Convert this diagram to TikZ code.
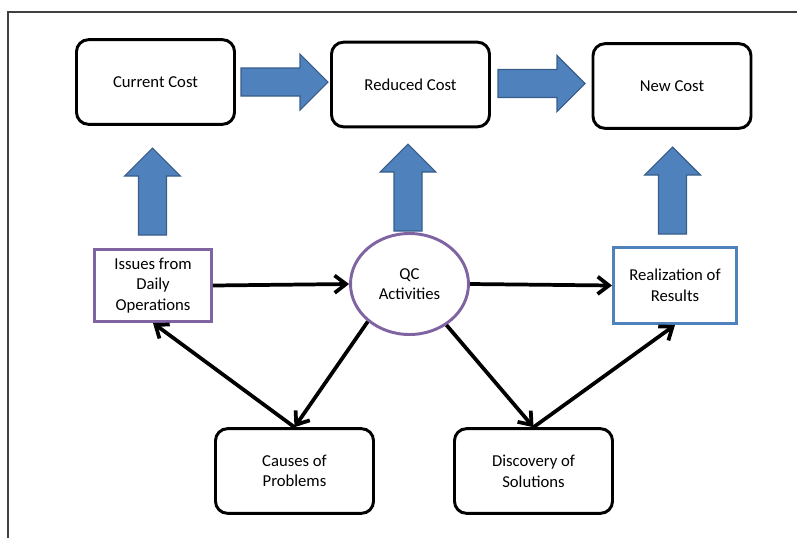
\documentclass[tikz,border=0pt]{standalone}
\usepackage{fontspec}
\setmainfont{Carlito}
\usetikzlibrary{arrows.meta,shapes.geometric}
\definecolor{accentblue}{HTML}{4F81BD}
\definecolor{arrowedge}{HTML}{385D8A}
\definecolor{accentpurple}{HTML}{8064A2}
\definecolor{framegray}{HTML}{404040}
\begin{document}
\begin{tikzpicture}[x=0.75pt,y=-0.75pt,
  every node/.style={font=\fontsize{12.5}{15.5}\selectfont, align=center, inner sep=0pt},
  costbox/.style={draw=black, line width=2.2pt, rounded corners=9pt, fill=white,
    minimum width=118.5pt, minimum height=63.5pt},
  purplebox/.style={draw=accentpurple, line width=2.2pt, fill=white,
    minimum width=87.75pt, minimum height=54pt},
  bluebox/.style={draw=accentblue, line width=2.2pt, fill=white,
    minimum width=92.25pt, minimum height=57pt},
  qcellipse/.style={ellipse, draw=accentpurple, line width=2.2pt, fill=white,
    minimum width=88.5pt, minimum height=75.75pt},
  flow/.style={draw=black, line width=2.8pt,
    -{Straight Barb[length=8.5pt,width=13pt,line width=2.8pt]}},
  blockstyle/.style={fill=accentblue, draw=arrowedge, line width=0.8pt, line join=miter},
  blockarrow/.pic={
    \draw[blockstyle] (0,-14) -- (59,-14) -- (59,-28) -- (87,0) -- (59,28)
      -- (59,14) -- (0,14) -- cycle;
  }
]
\useasboundingbox (0,0) rectangle (797,537);

% outer frame (top and left edges)
\draw[framegray, line width=0.8pt] (8,545) -- (8,12) -- (805,12);

% cost stages
\node[costbox] (cur) at (155.5,82) {Current Cost};
\node[costbox] (red) at (410.5,84.5) {Reduced Cost};
\node[costbox] (new) at (672,86) {New Cost};

% activity cycle
\node[purplebox] (iss) at (153,285.5) {Issues from\\Daily\\Operations};
\node[qcellipse] (qc) at (409.5,284) {QC\\Activities};
\node[bluebox] (res) at (675,285.5) {Realization of\\Results};
\node[costbox] (cau) at (294.5,471) {Causes of\\Problems};
\node[costbox] (dis) at (533.5,471) {Discovery of\\Solutions};

% block arrows between cost stages
\pic at (241,82) {blockarrow};
\pic at (498,83.5) {blockarrow};

% block arrows from the cycle up to the costs
\pic[rotate=90] at (152.5,235) {blockarrow};
\pic[rotate=90] at (408,231) {blockarrow};
\pic[rotate=90] at (672.5,234) {blockarrow};

% flow connectors
\draw[flow] (iss.east) -- (qc.west);
\draw[flow] (qc.east) -- (res.west);
\draw[flow] (qc.222) -- (cau.north);
\draw[flow] (qc.312) -- (dis.north);
\draw[flow] (cau.north) -- (iss.south);
\draw[flow] (dis.north) -- (res.south);
\end{tikzpicture}
\end{document}
